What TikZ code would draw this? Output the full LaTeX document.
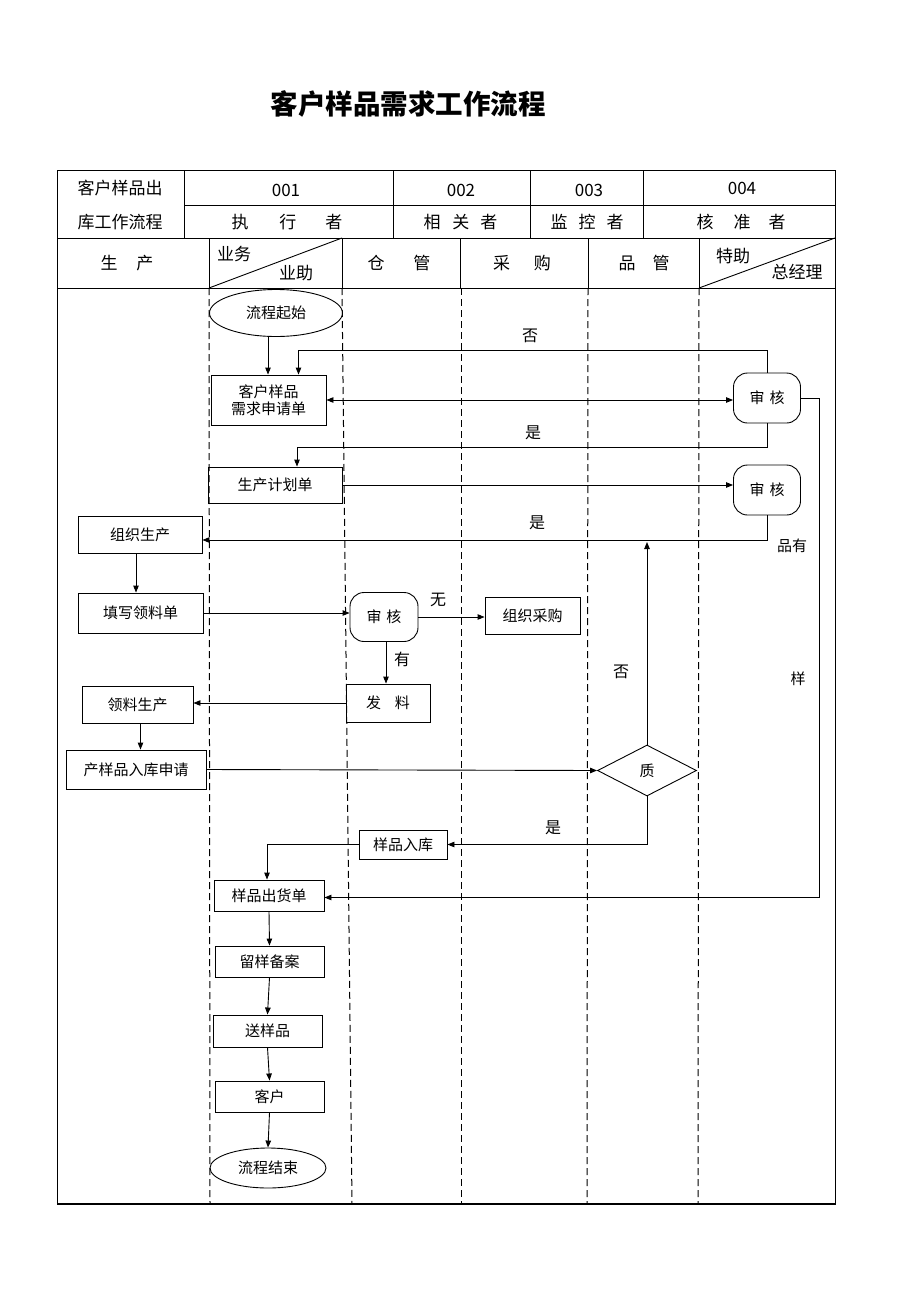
\documentclass[tikz,border=0pt]{standalone}
\usepackage{fontspec}
\setmainfont{Noto Sans CJK SC}
\usetikzlibrary{shapes.geometric,shapes.misc,arrows.meta}
\begin{document}
\begin{tikzpicture}[x=1pt,y=-1pt,line width=0.9pt,
  box/.style={draw,rectangle,inner sep=0pt,font=\fontsize{15}{17}\selectfont},
  arr/.style={-{Triangle[length=7pt,width=5.5pt]}},
  darr/.style={{Triangle[length=7pt,width=5.5pt]}-{Triangle[length=7pt,width=5.5pt]}},
  lane/.style={dash pattern=on 7pt off 4pt,line width=1pt},
  hd/.style={font=\fontsize{17}{19}\selectfont,inner sep=0pt},
  lbl/.style={font=\fontsize{16}{18}\selectfont,inner sep=0pt},
  audit/.style={draw,rectangle,rounded corners=14pt,minimum width=67pt,minimum height=50pt,inner sep=0pt,font=\fontsize{15}{17}\selectfont},
  oval/.style={draw,ellipse,inner sep=0pt,font=\fontsize{15}{17}\selectfont},
]
\useasboundingbox (0,0) rectangle (920,1301);
% title
\node[font=\fontsize{27.5}{30}\selectfont\bfseries] (title) at (408,104) {客户样品需求工作流程};
% table frame
\draw[line width=1pt] (57,170) rectangle (835,1204);
\draw[line width=1.6pt] (57,1204) -- (835,1204);
\draw (184,205) -- (835,205);
\draw (57,238) -- (835,238);
\draw (57,288) -- (835,288);
\foreach \x in {184,393,530,643} \draw (\x,170) -- (\x,238);
\foreach \x in {209,342,460,588,699} \draw (\x,238) -- (\x,288);
\draw (209,288) -- (342,238);
\draw (699,288) -- (835,238);
% lanes
\draw[lane] (209,288) -- (210,1204);
\draw[lane] (342,288) -- (352,1204);
\draw[lane] (461,288) -- (461,1204);
\draw[lane] (588,288) -- (587,1204);
\draw[lane] (699,288) -- (698,1204);
% header texts
\node[hd] (h1) at (120,188) {客户样品出};
\node[hd] (h2) at (120,222) {库工作流程};
\node[hd] (n1) at (286,190) {001};
\node[hd] (n2) at (461,190) {002};
\node[hd] (n3) at (589,190) {003};
\node[hd] (n4) at (742,188) {004};
\node[hd] (r1) at (287,222) {执\hspace{31pt}行\hspace{29pt}者};
\node[hd] (r2) at (460.5,222) {相\hspace{12pt}关\hspace{11pt}者};
\node[hd] (r3) at (587,222) {监\hspace{11pt}控\hspace{11pt}者};
\node[hd] (r4) at (741,222) {核\hspace{20pt}准\hspace{18pt}者};
\node[hd] (d1) at (127,263) {生\hspace{19pt}产};
\node[hd] (d2a) at (234,254) {业务};
\node[hd] (d2b) at (296,273) {业助};
\node[hd] (d3) at (399,263) {仓\hspace{29pt}管};
\node[hd] (d4) at (522,263) {采\hspace{24pt}购};
\node[hd] (d5) at (644,263) {品\hspace{17pt}管};
\node[hd] (d6a) at (733,256) {特助};
\node[hd] (d6b) at (797,272) {总经理};
% flow nodes
\node[oval,minimum width=133pt,minimum height=47pt] (start) at (276,313) {流程起始};
\node[box,minimum width=115pt,minimum height=50pt,align=center] (req) at (268.5,400) {客户样品\\需求申请单};
\node[audit] (aud1) at (767,398) {审\hspace{5pt}核};
\node[box,minimum width=134pt,minimum height=36pt] (plan) at (275,485) {生产计划单};
\node[audit] (aud2) at (767,490) {审\hspace{5pt}核};
\node[box,minimum width=124pt,minimum height=37pt] (org) at (140,535) {组织生产};
\node[box,minimum width=125pt,minimum height=40pt] (fill) at (140.5,613) {填写领料单};
\node[audit,minimum width=68pt,minimum height=49pt] (aud3) at (384,617) {审\hspace{5pt}核};
\node[box,minimum width=95pt,minimum height=37pt] (buy) at (532.5,615.5) {组织采购};
\node[box,minimum width=84pt,minimum height=38pt] (issue) at (388,703) {发\hspace{14pt}料};
\node[box,minimum width=111pt,minimum height=37pt] (use) at (137.5,704.5) {领料生产};
\node[box,minimum width=140pt,minimum height=39pt] (inreq) at (136,769.5) {产样品入库申请};
\node[draw,diamond,minimum width=99pt,minimum height=51pt,inner sep=0pt,font=\fontsize{15}{17}\selectfont] (qc) at (647,770.5) {质};
\node[box,minimum width=88pt,minimum height=29pt] (store) at (403,844.5) {样品入库};
\node[box,minimum width=110pt,minimum height=31pt] (ship) at (269,895.5) {样品出货单};
\node[box,minimum width=109pt,minimum height=31pt] (keep) at (269.5,961.5) {留样备案};
\node[box,minimum width=109pt,minimum height=32pt] (send) at (267.5,1031) {送样品};
\node[box,minimum width=109pt,minimum height=31pt] (cust) at (269.5,1096.5) {客户};
\node[oval,minimum width=116pt,minimum height=40pt] (end) at (268,1168) {流程结束};
\coordinate (upend) at (647,542);
% labels
\node[lbl] (l1) at (530,336) {否};
\node[lbl] (l2) at (533,433) {是};
\node[lbl] (l3) at (537,523) {是};
\node[lbl,font=\fontsize{15}{17}\selectfont] (l4) at (792,546) {品有};
\node[lbl,font=\fontsize{15}{17}\selectfont] (l5) at (798,679) {样};
\node[lbl] (l6) at (438,600) {无};
\node[lbl] (l7) at (402,659) {有};
\node[lbl] (l8) at (621,672) {否};
\node[lbl] (l9) at (553,828) {是};
% connectors
\draw[arr] ([xshift=-8pt]start.south) -- ([xshift=-8pt]start.south |- req.north);
\draw[arr] (aud1.north) -- ++(0,-22) -| ([xshift=30pt]req.north);
\draw[darr] (req.east) -- (req.east -| aud1.west);
\draw[arr] (aud1.south) -- ++(0,24) -| ([xshift=22pt]plan.north);
\draw[arr] (plan.east) -- (plan.east -| aud2.west);
\draw[arr] (aud2.south) |- ([yshift=-5pt]org.east);
\draw[arr] ([xshift=-4pt]org.south) -- ([xshift=-4pt]org.south |- fill.north);
\draw[arr] (fill.east) -- (fill.east -| aud3.west);
\draw[arr] (aud3.east) -- (aud3.east -| buy.west);
\draw[arr] ([xshift=2pt]aud3.south) -- ([xshift=2pt]aud3.south |- issue.north);
\draw[arr] (issue.west) -- (issue.west -| use.east);
\draw[arr] ([xshift=3pt]use.south) -- ([xshift=3pt]use.south |- inreq.north);
\draw[arr] (inreq.east) -- (qc.west);
\draw[arr] (qc.north) -- (upend);
\draw[arr] (qc.south) |- (store.east);
\draw[arr] (store.west) -| ([xshift=-2pt]ship.north);
\draw[arr] (aud1.east) -- ++(18,0) |- ([yshift=-2pt]ship.east);
\draw[arr] (ship.south) -- (keep.north);
\draw[arr] (keep.south) -- (send.north);
\draw[arr] (send.south) -- (cust.north);
\draw[arr] (cust.south) -- (end.north);
\end{tikzpicture}
\end{document}
